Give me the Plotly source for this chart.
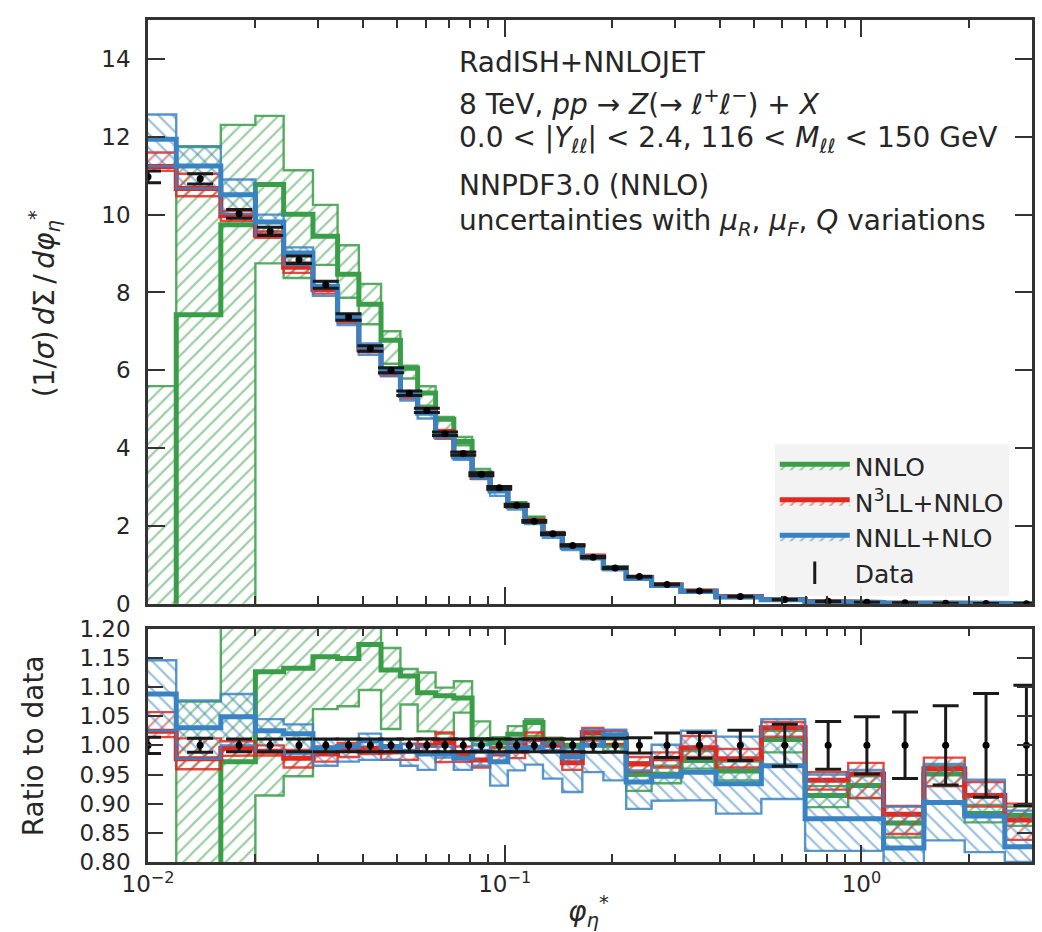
import plotly.graph_objects as go

# ---------------- data ----------------
edges = [0.008, 0.012, 0.016, 0.020, 0.024, 0.029, 0.034, 0.039, 0.045, 0.051, 0.057,
         0.064, 0.072, 0.081, 0.091, 0.102, 0.114, 0.128, 0.145, 0.165, 0.189, 0.219,
         0.258, 0.312, 0.391, 0.524, 0.695, 0.918, 1.153, 1.496, 1.947, 2.522, 3.277]

data = [10.97, 10.92, 10.02, 9.57, 8.84, 8.20, 7.37, 6.56, 6.00, 5.41, 4.97, 4.37, 3.86,
        3.33, 2.98, 2.53, 2.12, 1.80, 1.50, 1.20, 0.92, 0.70, 0.50, 0.33, 0.19, 0.11,
        0.065, 0.040, 0.025, 0.015, 0.009, 0.0055]
data_relerr = [0.014, 0.012, 0.011, 0.011, 0.011, 0.011, 0.011, 0.011, 0.011, 0.011, 0.011,
               0.011, 0.011, 0.011, 0.011, 0.011, 0.011, 0.011, 0.011, 0.012, 0.012, 0.013,
               0.021, 0.022, 0.026, 0.036, 0.041, 0.049, 0.057, 0.068, 0.089, 0.103]

# ratios to data (central, lower, upper)
nnlo_c = [-0.30, 0.680, 0.972, 1.126, 1.132, 1.152, 1.149, 1.173, 1.129, 1.119, 1.090, 1.085,
          1.081, 1.010, 1.004, 1.019, 1.039, 1.007, 1.000, 1.013, 1.000, 0.950, 0.951, 0.974,
          0.956, 1.010, 0.914, 0.931, 0.867, 0.951, 0.883, 0.880]
nnlo_hi = [0.51, 1.075, 1.228, 1.31, 1.26, 1.25, 1.25, 1.253, 1.167, 1.131, 1.125, 1.099,
           1.110, 1.041, 1.014, 1.033, 1.045, 1.013, 1.010, 1.021, 1.010, 0.971, 0.965, 0.990,
           0.972, 1.025, 0.930, 0.947, 0.880, 0.965, 0.898, 0.895]
nnlo_lo = [-1.0, -0.20, -0.10, 0.914, 0.947, 1.062, 1.067, 1.095, 1.028, 1.070, 1.024, 1.020,
           1.056, 1.000, 0.995, 1.007, 1.016, 0.999, 0.990, 1.002, 0.990, 0.922, 0.935, 0.960,
           0.940, 0.988, 0.894, 0.909, 0.842, 0.930, 0.868, 0.862]

n3ll_c = [1.024, 0.977, 0.995, 0.990, 0.978, 0.985, 0.992, 0.995, 0.988, 0.990, 1.000, 1.005,
          0.985, 0.975, 0.985, 0.990, 1.010, 1.000, 0.970, 1.022, 1.015, 0.968, 0.977, 0.996,
          0.977, 1.030, 0.940, 0.951, 0.882, 0.960, 0.914, 0.872]
n3ll_hi = [1.057, 1.012, 1.007, 1.000, 0.992, 0.998, 1.004, 1.008, 1.000, 1.003, 1.012, 1.022,
           0.998, 0.990, 0.997, 1.002, 1.022, 1.012, 0.985, 1.030, 1.025, 0.980, 0.988, 1.016,
           0.994, 1.040, 0.954, 0.970, 0.896, 0.979, 0.937, 0.900]
n3ll_lo = [1.014, 0.959, 0.982, 0.983, 0.962, 0.972, 0.980, 0.985, 0.975, 0.975, 0.988, 0.971,
           0.972, 0.962, 0.972, 0.978, 0.995, 0.988, 0.958, 1.008, 1.002, 0.955, 0.962, 0.980,
           0.962, 1.015, 0.924, 0.910, 0.848, 0.930, 0.895, 0.838]

nnll_c = [1.088, 1.030, 1.049, 1.025, 1.020, 0.995, 0.998, 1.008, 0.998, 0.990, 0.985, 0.985,
          0.978, 0.990, 0.972, 0.995, 0.997, 0.990, 0.980, 1.000, 1.018, 0.937, 0.947, 0.954,
          0.934, 0.965, 0.874, 0.874, 0.824, 0.902, 0.879, 0.826]
nnll_hi = [1.146, 1.077, 1.088, 1.045, 1.036, 1.010, 1.010, 1.020, 1.010, 1.002, 0.998, 0.998,
           0.990, 1.003, 0.985, 1.005, 1.010, 1.003, 0.995, 1.027, 1.027, 0.957, 1.001, 1.025,
           1.015, 1.045, 0.950, 0.958, 0.895, 0.968, 0.941, 0.888]
nnll_lo = [1.025, 0.977, 1.000, 0.990, 0.985, 0.965, 0.972, 0.975, 0.975, 0.965, 0.958, 0.979,
           0.958, 0.965, 0.931, 0.957, 0.967, 0.943, 0.920, 0.954, 0.940, 0.891, 0.905, 0.906,
           0.883, 0.908, 0.819, 0.819, 0.790, 0.837, 0.817, 0.800]

labels = ["NNLO", "N<sup>3</sup>LL+NNLO", "NNLL+NLO"]
colors = ["#3a9e48", "#e3281f", "#3983c4"]
hatches = ["/", "/", "\\"]

# ---------------- helpers ----------------
def step_xy(vals):
    xs, ys = [], []
    for i, v in enumerate(vals):
        xs += [edges[i], edges[i + 1]]
        ys += [v, v]
    return xs, ys

def band_xy(lo, hi):
    xu, yu = step_xy(hi)
    xl, yl = step_xy(lo)
    return xu + xl[::-1] + [xu[0]], yu + yl[::-1] + [yu[0]]

def rgba(h, a):
    h = h.lstrip("#")
    return "rgba(%d,%d,%d,%.2f)" % (int(h[0:2], 16), int(h[2:4], 16), int(h[4:6], 16), a)

centers = [(edges[i] + edges[i + 1]) / 2 for i in range(len(data))]

fig = go.Figure()

series = [(nnlo_c, nnlo_lo, nnlo_hi), (n3ll_c, n3ll_lo, n3ll_hi), (nnll_c, nnll_lo, nnll_hi)]

for panel in ("main", "ratio"):
    xa, ya = ("x", "y") if panel == "main" else ("x2", "y2")
    for k, (c, lo, hi) in enumerate(series):
        if panel == "main":
            c = [r * d for r, d in zip(c, data)]
            lo = [r * d for r, d in zip(lo, data)]
            hi = [r * d for r, d in zip(hi, data)]
        bx, by = band_xy(lo, hi)
        fig.add_trace(go.Scatter(
            x=bx, y=by, xaxis=xa, yaxis=ya, mode="lines", fill="toself",
            fillcolor="rgba(0,0,0,0)",
            fillpattern=dict(shape=hatches[k], fgcolor=colors[k], bgcolor="rgba(0,0,0,0)",
                             size=10, solidity=0.22),
            line=dict(color=rgba(colors[k], 0.85), width=2.4),
            showlegend=False, hoverinfo="skip"))
        sx, sy = step_xy(c)
        fig.add_trace(go.Scatter(
            x=sx, y=sy, xaxis=xa, yaxis=ya, mode="lines",
            line=dict(color=colors[k], width=5),
            showlegend=False, hoverinfo="skip"))
    if panel == "main":
        yv = data
        ev = [d * e for d, e in zip(data, data_relerr)]
    else:
        yv = [1.0] * len(data)
        ev = data_relerr
    fig.add_trace(go.Scatter(
        x=centers, y=yv, xaxis=xa, yaxis=ya, mode="markers",
        marker=dict(color="black", size=7),
        error_y=dict(type="data", array=ev, visible=True, color="#1a1a1a", thickness=3, width=13),
        name="Data", showlegend=False))

# legend entries (legend-only proxies)
for k in range(3):
    fig.add_trace(go.Scatter(
        x=[None], y=[None], mode="lines", fill="toself", fillcolor="rgba(0,0,0,0)",
        fillpattern=dict(shape="/", fgcolor=colors[k], bgcolor="rgba(0,0,0,0)",
                         size=7, solidity=0.3),
        line=dict(color=colors[k], width=5), name=labels[k], showlegend=True))
fig.add_trace(go.Scatter(
    x=[None], y=[None], mode="markers",
    marker=dict(color="black", size=22, symbol="line-ns", line=dict(width=3, color="#1a1a1a")),
    name="Data", showlegend=True))

FONT = "DejaVu Sans"
TXT = "#262626"
xr = [-2, 0.478]
minor_vals = [m * 10 ** e for e in (-2, -1, 0) for m in range(2, 10)]
axis_common = dict(showline=True, linewidth=2.5, linecolor="#333333", mirror="ticks",
                   ticks="inside", tickwidth=2, tickcolor="#333333", showgrid=False,
                   zeroline=False, tickfont=dict(family=FONT, size=23, color=TXT))
minor_common = dict(tickvals=minor_vals, ticklen=8, ticks="inside", tickwidth=2,
                    tickcolor="#333333")

fig.update_layout(
    width=1042, height=932,
    margin=dict(l=148, r=7, t=14, b=70),
    paper_bgcolor="white", plot_bgcolor="white",
    font=dict(family=FONT, size=24, color=TXT),
    xaxis=dict(type="log", range=xr, domain=[0, 1], anchor="y", showticklabels=False,
               tickvals=[0.01, 0.1, 1], ticklen=17, minor=minor_common, **axis_common),
    yaxis=dict(range=[0, 15], domain=[0.3066, 1], anchor="x", tickvals=list(range(0, 15, 2)),
               ticklen=17, ticklabelstandoff=10, **axis_common),
    xaxis2=dict(type="log", range=xr, domain=[0, 1], anchor="y2", matches="x",
                tickvals=[0.01, 0.1, 1],
                ticktext=["10<sup>\u22122</sup>", "10<sup>\u22121</sup>", "10<sup>0</sup>"],
                ticklen=17, minor=minor_common, **axis_common),
    yaxis2=dict(range=[0.8, 1.2], domain=[0, 0.2771], anchor="x2",
                tickvals=[0.80, 0.85, 0.90, 0.95, 1.00, 1.05, 1.10, 1.15, 1.20],
                ticktext=["0.80", "0.85", "0.90", "0.95", "1.00", "1.05", "1.10", "1.15", "1.20"],
                ticklen=15, ticklabelstandoff=10, **axis_common),
    legend=dict(x=0.709, y=0.497, xanchor="left", yanchor="top",
                bgcolor="rgba(242,242,242,0.95)", borderwidth=0,
                font=dict(family=FONT, size=25, color=TXT), itemwidth=70,
                tracegroupgap=2),
    showlegend=True,
)

def py(ypix):
    return (862 - ypix) / 848.0

def px(xpix):
    return (xpix - 148) / 887.0

lines = [
    ("RadISH+NNLOJET", 57),
    ("8 TeV, <i>pp</i> \u2192 <i>Z</i>(\u2192 <i>\u2113</i><sup>+</sup><i>\u2113</i><sup>\u2212</sup>) + <i>X</i>", 97),
    ("0.0 &lt; |<i>Y</i><sub><i>\u2113\u2113</i></sub>| &lt; 2.4, 116 &lt; <i>M</i><sub><i>\u2113\u2113</i></sub> &lt; 150 GeV", 134),
    ("NNPDF3.0 (NNLO)", 181),
    ("uncertainties with <i>\u03bc</i><sub><i>R</i></sub>, <i>\u03bc</i><sub><i>F</i></sub>, <i>Q</i> variations", 218),
]
for t, yp in lines:
    fig.add_annotation(text=t, x=px(458), y=py(yp), xref="paper", yref="paper",
                       xanchor="left", yanchor="middle", showarrow=False,
                       font=dict(family=FONT, size=28, color=TXT))

fig.add_annotation(text="(1/<i>\u03c3</i>)\u2009<i>d</i>\u03a3\u2009/\u2009<i>d\u03c6</i><sub><i>\u03b7</i></sub><sup>*</sup>",
                   x=px(45), y=py(300), xref="paper", yref="paper", textangle=-90,
                   xanchor="center", yanchor="middle",
                   showarrow=False, font=dict(family=FONT, size=28, color=TXT))
fig.add_annotation(text="Ratio to data", x=px(33), y=py(745), xref="paper", yref="paper",
                   xanchor="center", yanchor="middle",
                   textangle=-90, showarrow=False, font=dict(family=FONT, size=28, color=TXT))
fig.add_annotation(text="<i>\u03c6</i><sub><i>\u03b7</i></sub><sup>*</sup>", x=px(590), y=py(912),
                   xref="paper", yref="paper", xanchor="center", yanchor="middle",
                   showarrow=False, font=dict(family=FONT, size=28, color=TXT))

fig.write_html("out.html")
